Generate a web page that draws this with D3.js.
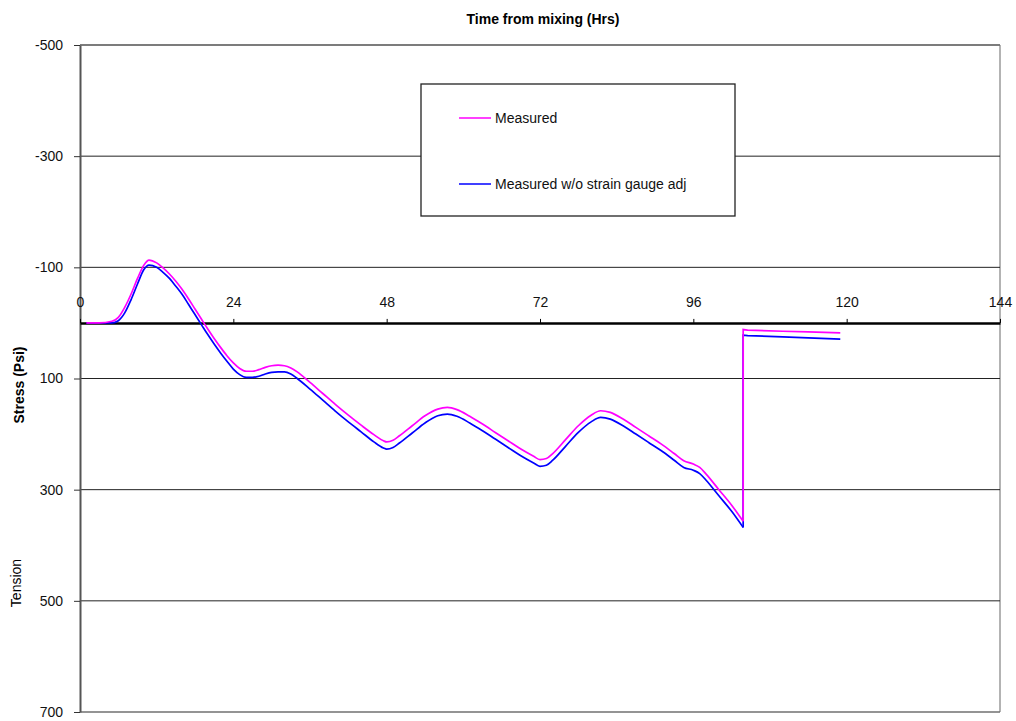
<!DOCTYPE html>
<html>
<head>
<meta charset="utf-8">
<script src="https://cdn.jsdelivr.net/npm/d3@7"></script>
<style>
  body { margin: 0; background: #fff; }
  text { font-family: "Liberation Sans", Arial, sans-serif; }
</style>
</head>
<body>
<svg id="chart"></svg>
<script>
// hours from mixing (103.8 appears twice = the vertical jump)
var hours = [1,3,5,6,7,8,9,10,10.8,12,13,14,15,16,17,18,19,20,21,22,23,24,25,26,27,28,29,30,31,
  32,33,34,36,38,40,42,44,46,47.5,48,49,50,52,54,56,57.5,59,61,63,65,67,69,71,72,73,74,76,78,80,
  81.5,83,85,87,89,91,93,94.5,96,97,98,100,102,103.8,103.8,104.5,110,114,119]

var measured = [0,0,-3,-10,-28,-52,-80,-104,-113,-108,-99,-88,-75,-60,-43,-25,-7,11,28,
  44,59,72,82,87,87,84,80,77,76,77,81,88,107,127,147,166,184,201,212,
  214,211,203,185,167,155,152,156,168,182,197,212,227,240,246,244,235,210,185,166,
  158,161,173,188,203,218,235,248,254,260,272,300,328,357,12,13,15,16,18]

var measuredNoAdj = [0,0,0,-4,-18,-42,-70,-96,-104,-100,-91,-80,-66,-51,-33,-15,3,21,38,
  54,69,83,93,98,98,96,92,89,88,88,92,100,119,139,159,178,196,214,225,
  227,224,216,198,180,167,164,168,180,194,209,224,239,252,258,256,247,222,197,178,
  170,173,185,200,215,230,247,260,265,271,283,311,339,368,22,23,25,27,29]

var xTicks = [0,24,48,72,96,120,144]
var yTicks = [-500,-300,-100,100,300,500,700]

var series = [
  {name: "Measured", values: measured, color: "#ff00ff"},
  {name: "Measured w/o strain  gauge adj", values: measuredNoAdj, color: "#0000ff"}
]

var W = 1016, H = 721
var plot = {left: 80, right: 1000, top: 45, bottom: 712}

var svg = d3.select("#chart").attr("width", W).attr("height", H)

var x = d3.scaleLinear().domain([0, 144]).range([plot.left, plot.right])
var y = d3.scaleLinear().domain([-500, 700]).range([plot.top, plot.bottom])

// plot border (top / right)
svg.append("line").attr("x1", plot.left).attr("x2", plot.right).attr("y1", plot.top).attr("y2", plot.top)
  .attr("stroke", "#808080").attr("stroke-width", 1.5)
svg.append("line").attr("x1", plot.right).attr("x2", plot.right).attr("y1", plot.top).attr("y2", plot.bottom)
  .attr("stroke", "#808080").attr("stroke-width", 1.2)

// horizontal gridlines
svg.append("g").selectAll("line")
  .data(yTicks)
  .enter().append("line")
  .attr("x1", plot.left).attr("x2", plot.right)
  .attr("y1", d => y(d)).attr("y2", d => y(d))
  .attr("stroke", d => (d == -500 || d == 700) ? "#707070" : "#222")
  .attr("stroke-width", d => (d == -500 || d == 700) ? 1.5 : 1)

// y axis
var yAxis = svg.append("g")
  .attr("transform", "translate(" + plot.left + ",0)")
  .call(d3.axisLeft(y).tickValues(yTicks).tickSize(6).tickSizeOuter(0).tickFormat(d => String(d)))
yAxis.select(".domain").attr("stroke", "#555").attr("stroke-width", 2)
yAxis.selectAll(".tick line").attr("stroke", "#333")
yAxis.selectAll(".tick text").attr("font-size", 14).attr("fill", "#111")
  .attr("font-family", "Liberation Sans, Arial, sans-serif").attr("x", -17)

// x axis on the zero line, labels above
var xAxis = svg.append("g")
  .attr("transform", "translate(0," + y(0) + ")")
  .call(d3.axisTop(x).tickValues(xTicks).tickSize(4).tickSizeOuter(0))
xAxis.select(".domain").attr("stroke", "#000").attr("stroke-width", 2.5)
xAxis.selectAll(".tick line").attr("stroke", "#000")
xAxis.selectAll(".tick text").attr("font-size", 14).attr("fill", "#111")
  .attr("font-family", "Liberation Sans, Arial, sans-serif").attr("y", -16)

// series: smooth up to the jump, straight from the jump on
var jump = hours.findIndex((h, i) => i > 0 && h == hours[i - 1])

var smooth = d3.line().x(d => x(d[0])).y(d => y(d[1])).curve(d3.curveMonotoneX)
var straight = d3.line().x(d => x(d[0])).y(d => y(d[1]))

series.slice().reverse().forEach(function(s){
  var pts = hours.map((h, i) => [h, s.values[i]])
  svg.append("path")
    .attr("d", smooth(pts.slice(0, jump)))
    .attr("fill", "none").attr("stroke", s.color).attr("stroke-width", 1.7)
  svg.append("path")
    .attr("d", straight(pts.slice(jump - 1)))
    .attr("fill", "none").attr("stroke", s.color).attr("stroke-width", 1.7)
})

// legend
var lg = svg.append("g")
lg.append("rect").attr("x", 421).attr("y", 84).attr("width", 314).attr("height", 132)
  .attr("fill", "#fff").attr("stroke", "#222").attr("stroke-width", 1.3)
series.forEach(function(s, i){
  var ly = 118 + i * 66
  lg.append("line").attr("x1", 459).attr("x2", 491).attr("y1", ly).attr("y2", ly)
    .attr("stroke", s.color).attr("stroke-width", 1.5)
  lg.append("text").attr("x", 495).attr("y", ly + 5)
    .attr("font-size", 14).attr("fill", "#111").text(s.name)
})

// titles
svg.append("text").attr("x", 543).attr("y", 24).attr("text-anchor", "middle")
  .attr("font-size", 14).attr("font-weight", "bold").text("Time from mixing (Hrs)")
svg.append("text").attr("transform", "translate(24,385) rotate(-90)").attr("text-anchor", "middle")
  .attr("font-size", 14).attr("font-weight", "bold").text("Stress (Psi)")
svg.append("text").attr("transform", "translate(21,583) rotate(-90)").attr("text-anchor", "middle")
  .attr("font-size", 14).text("Tension")
</script>
</body>
</html>
